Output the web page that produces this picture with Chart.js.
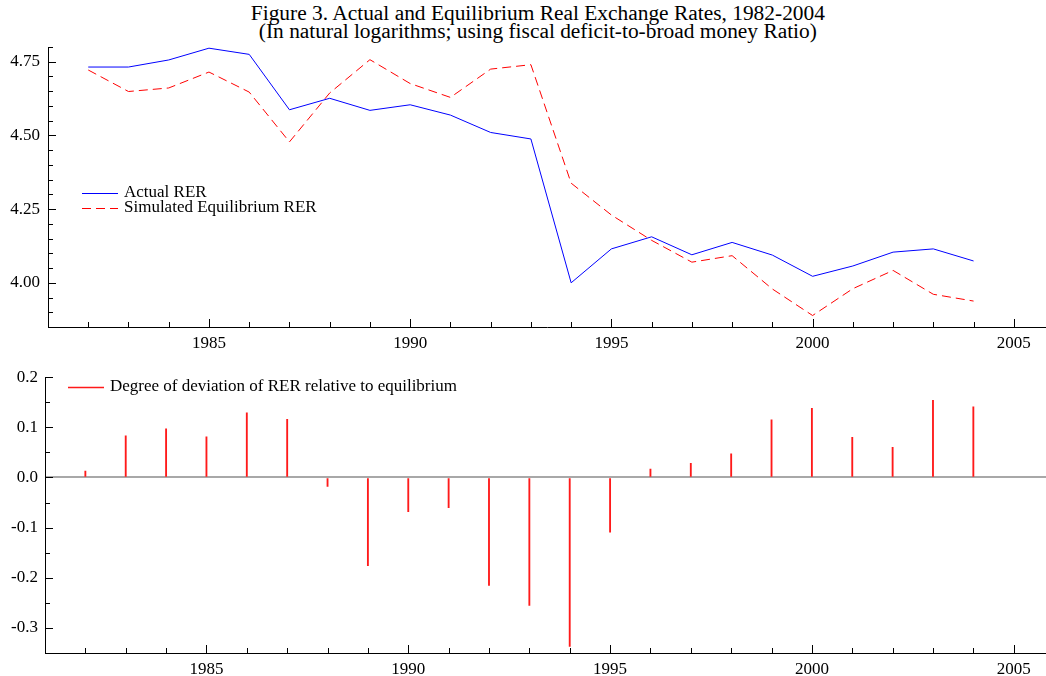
<!DOCTYPE html>
<html>
<head>
<meta charset="utf-8">
<script src="https://cdn.jsdelivr.net/npm/chart.js@4.4.1/dist/chart.umd.min.js"></script>
<style>
  html, body { margin: 0; padding: 0; background: #fff; overflow: hidden; }
  body { width: 1046px; height: 676px; position: relative; font-family: "Liberation Serif", "DejaVu Serif", serif; }
  .title { position: absolute; left: 0; width: 1046px; text-align: center; font-size: 20px; line-height: 20px; color: #000; white-space: nowrap; transform: scaleX(1.07); transform-origin: 539px 0; }
  #top { position: absolute; left: 0; top: 0; }
  #bottom { position: absolute; left: 0; top: 360px; }
</style>
</head>
<body>
<div class="title" style="top:3px; left:16px">Figure 3. Actual and Equilibrium Real Exchange Rates, 1982-2004</div>
<div class="title" style="top:21px; left:16px">(In natural logarithms; using fiscal deficit-to-broad money Ratio)</div>
<canvas id="top" width="1046" height="360"></canvas>
<canvas id="bottom" width="1046" height="323"></canvas>
<script>
const years = [1982, 1983, 1984, 1985, 1986, 1987, 1988, 1989, 1990, 1991, 1992, 1993,
               1994, 1995, 1996, 1997, 1998, 1999, 2000, 2001, 2002, 2003, 2004];
const actualRER = [4.732, 4.732, 4.756, 4.796, 4.775, 4.587, 4.626, 4.585, 4.604, 4.569, 4.510, 4.488,
                   4.000, 4.115, 4.156, 4.095, 4.137, 4.094, 4.022, 4.057, 4.104, 4.115, 4.074];
const equilibriumRER = [4.722, 4.649, 4.661, 4.715, 4.647, 4.478, 4.644, 4.757, 4.676, 4.629, 4.725, 4.740,
                        4.338, 4.230, 4.144, 4.070, 4.092, 3.979, 3.889, 3.980, 4.042, 3.961, 3.938];
const deviation = [0.013, 0.083, 0.097, 0.081, 0.129, 0.116, -0.018, -0.176, -0.068, -0.060, -0.215, -0.255,
                   -0.337, -0.109, 0.017, 0.028, 0.047, 0.115, 0.138, 0.080, 0.060, 0.154, 0.141];

const FONT = "'Liberation Serif', 'DejaVu Serif', serif";
const near = (v, step) => Math.abs(v / step - Math.round(v / step)) < 1e-6;

// tick marks drawn on the inside of the axes, plus a small legend
const framePlugin = {
  id: "frame",
  afterDraw(chart, args, opts) {
    const { ctx, chartArea: a, scales: { x, y } } = chart;
    ctx.save();
    ctx.strokeStyle = "#000";
    ctx.lineWidth = 1;
    ctx.beginPath();
    for (let yr = 1982; yr <= 2005; yr++) {
      const px = Math.round(x.getPixelForValue(yr)) + 0.5;
      const len = yr % 5 === 0 ? 8 : 5;
      ctx.moveTo(px, a.bottom);
      ctx.lineTo(px, a.bottom - len);
    }
    for (let v = opts.yMin; v <= y.max + 1e-9; v += opts.yMinor) {
      const py = Math.round(y.getPixelForValue(v)) + 0.5;
      const len = near(v, opts.yMajor) ? 8 : 5;
      ctx.moveTo(a.left, py);
      ctx.lineTo(a.left + len, py);
    }
    ctx.stroke();

    ctx.font = "17px " + FONT;
    ctx.textBaseline = "middle";
    ctx.fillStyle = "#000";
    opts.legend.forEach(item => {
      ctx.beginPath();
      ctx.strokeStyle = item.color;
      ctx.lineWidth = item.width || 1;
      ctx.setLineDash(item.dash || []);
      ctx.moveTo(item.x, item.y + 0.5);
      ctx.lineTo(item.x + 36, item.y + 0.5);
      ctx.stroke();
      ctx.setLineDash([]);
      ctx.fillText(item.text, item.x + 42, item.y);
    });
    ctx.restore();
  }
};

function xScale(height) {
  return {
    type: "linear",
    min: 1981,
    max: 2005.8,
    offset: false,
    afterFit: s => { s.height = height; },
    border: { display: true, color: "#000", width: 1 },
    grid: { display: false, drawTicks: false, offset: false },
    ticks: {
      stepSize: 1,
      includeBounds: false,
      autoSkip: false,
      maxRotation: 0,
      padding: 6,
      color: "#000",
      font: { family: FONT, size: 17 },
      callback: v => (Number.isInteger(v) && v % 5 === 0 ? String(v) : "")
    }
  };
}

new Chart(document.getElementById("top"), {
  type: "line",
  data: {
    datasets: [
      {
        label: "Actual RER",
        data: years.map((yr, i) => ({ x: yr, y: actualRER[i] })),
        borderColor: "#0000ff",
        borderWidth: 1,
        pointRadius: 0,
        tension: 0
      },
      {
        label: "Simulated Equilibrium RER",
        data: years.map((yr, i) => ({ x: yr, y: equilibriumRER[i] })),
        borderColor: "#ff0000",
        borderWidth: 1,
        borderDash: [9, 5],
        pointRadius: 0,
        tension: 0
      }
    ]
  },
  options: {
    responsive: false,
    animation: false,
    layout: { padding: { top: 47, left: 0, right: 0, bottom: 0 } },
    scales: {
      x: xScale(33),
      y: {
        min: 3.85,
        max: 4.8,
        afterFit: s => { s.width = 48; },
        border: { display: true, color: "#000", width: 1 },
        grid: { display: false, drawTicks: false },
        ticks: {
          stepSize: 0.05,
          autoSkip: false,
          padding: 8,
          color: "#000",
          font: { family: FONT, size: 17 },
          callback: v => (near(v, 0.25) ? v.toFixed(2) : "")
        }
      }
    },
    plugins: {
      legend: { display: false },
      tooltip: { enabled: false },
      frame: {
        yMin: 3.85, yMinor: 0.05, yMajor: 0.25,
        legend: [
          { text: "Actual RER", color: "#0000ff", x: 82, y: 193 },
          { text: "Simulated Equilibrium RER", color: "#ff0000", dash: [9, 5], x: 82, y: 208 }
        ]
      }
    }
  },
  plugins: [framePlugin]
});

new Chart(document.getElementById("bottom"), {
  type: "bar",
  data: {
    datasets: [{
      label: "Degree of deviation of RER relative to equilibrium",
      data: years.map((yr, i) => ({ x: yr, y: deviation[i] })),
      backgroundColor: "#ff1a1a",
      barThickness: 1.2
    }]
  },
  options: {
    responsive: false,
    animation: false,
    layout: { padding: { top: 13, left: 0, right: 0, bottom: 0 } },
    scales: {
      x: xScale(30),
      y: {
        min: -0.35,
        max: 0.2,
        afterFit: s => { s.width = 45; },
        border: { display: true, color: "#000", width: 1 },
        grid: {
          drawTicks: false,
          color: c => (Math.abs(c.tick.value) < 1e-9 ? "#a8a8a8" : "rgba(0,0,0,0)"),
          lineWidth: c => (Math.abs(c.tick.value) < 1e-9 ? 2 : 0)
        },
        ticks: {
          stepSize: 0.05,
          autoSkip: false,
          padding: 7,
          color: "#000",
          font: { family: FONT, size: 17 },
          callback: v => (near(v, 0.1) ? v.toFixed(1) : "")
        }
      }
    },
    plugins: {
      legend: { display: false },
      tooltip: { enabled: false },
      frame: {
        yMin: -0.35, yMinor: 0.05, yMajor: 0.1,
        legend: [
          { text: "Degree of deviation of RER relative to equilibrium", color: "#ff1a1a", width: 1.5, x: 68, y: 27 }
        ]
      }
    }
  },
  plugins: [framePlugin]
});
</script>
</body>
</html>
